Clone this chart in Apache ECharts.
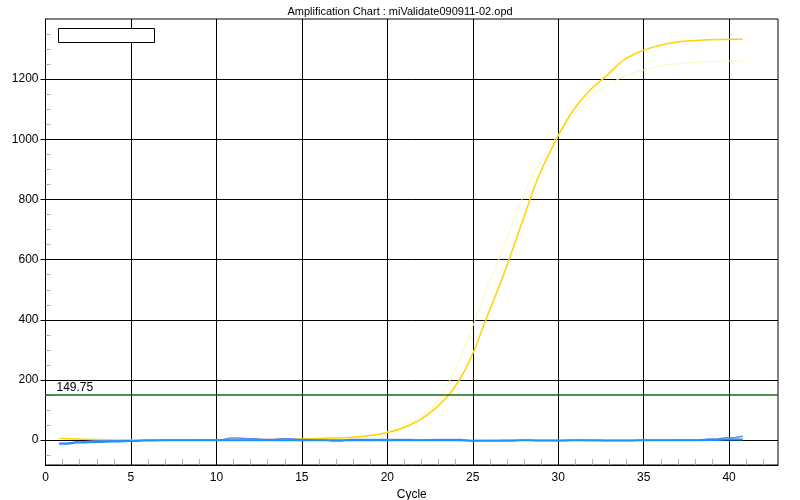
<!DOCTYPE html>
<html><head><meta charset="utf-8">
<script src="https://cdn.jsdelivr.net/npm/echarts@6/dist/echarts.min.js"></script>
<style>html,body{margin:0;padding:0;background:#fff}#c{width:800px;height:500px}</style>
</head><body><div id="c"></div>
<script>
const titleText = 'Amplification Chart : miValidate090911-02.opd';
const xName = 'Cycle';
const yName = 'PCR Base Line Subtracted Curve Fit RFU';
const cycles = [0.8,1.8,2.8,3.8,4.8,5.8,6.8,7.8,8.8,9.8,10.8,11.8,12.8,13.8,14.8,15.8,16.8,17.8,18.8,19.8,20.8,21.8,22.8,23.8,24.8,25.8,26.8,27.8,28.8,29.8,30.8,31.8,32.8,33.8,34.8,35.8,36.8,37.8,38.8,39.8,40.8];
const xTickLabels = [0,5,10,15,20,25,30,35,40];
const xMinorTicks = [1,2,3,4,6,7,8,9,11,12,13,14,16,17,18,19,21,22,23,24,26,27,28,29,31,32,33,34,36,37,38,39,41,42];
const yTickLabels = [0,200,400,600,800,1000,1200];
const yMinorTicks = [-50,50,100,150,250,300,350,450,500,550,650,700,750,850,900,950,1050,1100,1150,1250,1300,1350];
const threshold = 149.75;
const sampleMain = [6,4,2,1,0,0,0,0,1,1,2,2,2,2,4,6,7,9,14,23,38,64,105,165,262,405,550,710,870,990,1090,1160,1210,1262,1292,1310,1322,1328,1331,1332,1333];
const samplePale = [5,3,2,1,0,0,0,0,1,1,2,2,2,2,3,5,6,9,14,25,42,72,122,215,350,500,640,790,910,1000,1075,1135,1178,1207,1227,1241,1250,1255,1258,1260,1261];
const baseBlue = [-12,-8,-6,-4,-3,-1,0,0,0,0,0,0,0,0,0,0,0,0,0,0,0,0,0,0,-2,-2,-2,0,-1,-1,0,0,-1,-1,0,0,0,0,1,2,2];
const baseCorn = [-10,-6,-3,-2,-1,0,0,0,1,1,7,5,2,5,2,1,-3,2,2,2,2,1,2,2,-1,-1,0,0,-1,-1,0,-1,-1,-1,0,0,1,1,4,8,13];

function pairs(vals){ return cycles.map((c,i)=>[c, vals[i]]); }

const chart = echarts.init(document.getElementById('c'));
const font = 'Liberation Sans, Arial, sans-serif';
chart.setOption({
  animation: false,
  backgroundColor: '#fff',
  title: { text: titleText, left: 'center', top: 1,
    textStyle: { fontFamily: font, fontSize: 11, fontWeight: 'normal', color: '#000' } },
  grid: { left: 45.5, right: 22, top: 19, bottom: 35, containLabel: false, outerBoundsMode: 'none',
    show: true, borderColor: '#000', borderWidth: 1, backgroundColor: '#fff' },
  graphic: [{ type: 'rect', left: 58, top: 28, shape: { width: 96, height: 14 }, style: { fill: '#fff', stroke: '#000', lineWidth: 1 }, z: 100 }],
  xAxis: [{
    type: 'value', min: 0, max: 42.86, interval: 5,
    name: xName, nameLocation: 'middle', nameGap: 22,
    nameTextStyle: { fontFamily: font, fontSize: 12, color: '#000' },
    axisLine: { show: true, onZero: false, lineStyle: { color: '#000' } },
    axisTick: { show: false, customValues: xTickLabels },
    axisLabel: { customValues: xTickLabels, margin: 7, fontFamily: font, fontSize: 12, color: '#000', formatter: v => String(v) },
    splitLine: { show: true, lineStyle: { color: '#000', width: 1 } }
  }, {
    type: 'value', min: 0, max: 42.86, position: 'bottom',
    axisLine: { show: false, onZero: false }, axisLabel: { show: false }, splitLine: { show: false },
    axisTick: { show: true, inside: true, length: 6, customValues: xMinorTicks, lineStyle: { color: '#b4b4b4' } }
  }],
  yAxis: [{
    type: 'value', min: -82.5, max: 1400,
    name: yName, nameLocation: 'middle', nameGap: 32,
    nameTextStyle: { fontFamily: font, fontSize: 12, color: '#000' },
    axisLine: { show: true, onZero: false, lineStyle: { color: '#000' } },
    axisTick: { show: true, inside: false, length: 5, customValues: yTickLabels, lineStyle: { color: '#000' } },
    axisLabel: { customValues: yTickLabels, margin: 7, fontFamily: font, fontSize: 12, color: '#000', formatter: v => String(v) },
    splitLine: { show: true, lineStyle: { color: '#000', width: 1 } }
  }, {
    type: 'value', min: -82.5, max: 1400, position: 'left',
    axisLine: { show: false, onZero: false }, axisLabel: { show: false }, splitLine: { show: false },
    axisTick: { show: true, inside: true, length: 5, customValues: yMinorTicks, lineStyle: { color: '#b4b4b4' } }
  }],
  series: [
    { type: 'line', name: 'pale', data: pairs(samplePale), symbol: 'none', smooth: 0.4,
      lineStyle: { color: '#fbf7b8', width: 1 }, z: 2 },
    { type: 'line', name: 'main', data: pairs(sampleMain), symbol: 'none', smooth: 0.4,
      lineStyle: { color: '#ffd400', width: 1.5 }, z: 3,
      markLine: { silent: true, symbol: 'none', animation: false,
        lineStyle: { color: '#156b15', width: 1.5, type: 'solid', opacity: 1 },
        emphasis: { disabled: true },
        label: { show: true, position: 'insideStartTop', formatter: String(threshold), color: '#000', fontFamily: font, fontSize: 12, distance: [11, 1] },
        data: [{ yAxis: threshold }] } },
    { type: 'line', name: 'corn', data: pairs(baseCorn), symbol: 'none', step: 'middle',
      lineStyle: { color: '#5b8fe6', width: 1.5 }, z: 4 },
    { type: 'line', name: 'blue', data: pairs(baseBlue), symbol: 'none', step: 'middle',
      lineStyle: { color: '#1e90ff', width: 2 }, z: 5 }
  ]
});
</script></body></html>
